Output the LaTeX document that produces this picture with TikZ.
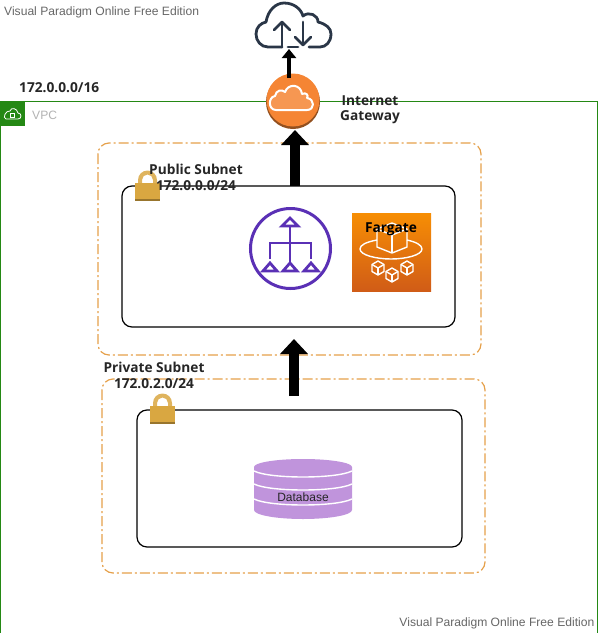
\documentclass[tikz,border=0pt]{standalone}
\usepackage{fontspec}
\setmainfont{Open Sans}
\newfontfamily\wmfont{Liberation Sans}
\usetikzlibrary{arrows.meta}
\definecolor{vpcgreen}{HTML}{248814}
\definecolor{subnetorange}{HTML}{E5A04A}
\definecolor{lockgold}{HTML}{D9A741}
\definecolor{lbpurple}{HTML}{5A30B5}
\definecolor{dbpurple}{HTML}{C094DC}
\definecolor{clouddark}{HTML}{2A3647}
\definecolor{gworange}{HTML}{F58534}
\definecolor{fgtop}{HTML}{F78E04}
\definecolor{fgbot}{HTML}{D05C17}
\tikzset{
  lbl/.style={font=\bfseries\fontsize{13.7}{15}\selectfont,text=black!85,inner sep=0pt},
  wmark/.style={font=\wmfont\fontsize{12.1}{14}\selectfont,text=black!60,inner sep=0pt},
  subnetbox/.style={draw=subnetorange,line width=1.2pt,rounded corners=11pt,dash pattern=on 10pt off 3pt on 2pt off 3pt},
  innerbox/.style={draw=black,line width=1.2pt,rounded corners=10pt},
  bigarrow/.style={-{Triangle[length=15pt,width=27pt]},line width=10.5pt,black},
  smallarrow/.style={-{Triangle[length=9pt,width=14pt]},line width=4.5pt,black},
  lockicon/.pic={
    \fill[lockgold!85!white,even odd rule] (-9.5,2) -- (-9.5,-3) arc[start angle=180,end angle=360,radius=9.5] -- (9.5,2) -- cycle
      (-5.5,2) -- (-5.5,-3) arc[start angle=180,end angle=360,radius=5.5] -- (5.5,2) -- cycle;
    \fill[lockgold] (-12.5,0) rectangle (12.5,16);
    \fill[lockgold!70!black] (-12.5,16) rectangle (12.5,18);
  }
}
\begin{document}
\begin{tikzpicture}[x=1pt,y=-1pt]
\useasboundingbox (0,0) rectangle (598,633);

% VPC
\draw[vpcgreen,line width=1pt] (0.5,101) rectangle (597.5,640);
\fill[vpcgreen] (0,101) rectangle (25,126);
\draw[white,line width=0.8pt] (6,119) -- (18,119) .. controls (22,119) and (22,113) .. (18,113)
  .. controls (17,108) and (11,107) .. (10,111) .. controls (6,110) and (2,118) .. (6,119);
\draw[white,line width=0.7pt] (10,113.5) rectangle (14,117);
\node[wmark,anchor=west,text=black!30] (vpclabel) at (32,115) {VPC};
\node[lbl,anchor=west] (vpccidr) at (19,88) {172.0.0.0/16};

% Subnets
\draw[subnetbox] (98,143) rectangle (481,355);
\draw[subnetbox] (102,379) rectangle (485,573);
\node[innerbox,minimum width=333pt,minimum height=141pt,inner sep=0pt] (pubbox) at (288.5,256.5) {};
\node[innerbox,minimum width=325pt,minimum height=137pt,inner sep=0pt] (privbox) at (299.5,478.5) {};
\pic at (147.5,183) {lockicon};
\pic at (162.5,406) {lockicon};
\node[lbl] (publabel) at (196,169) {Public Subnet};
\node[lbl] (pubcidr) at (196,186) {172.0.0.0/24};
\node[lbl] (privlabel) at (154,367) {Private Subnet};
\node[lbl] (privcidr) at (154,384) {172.0.2.0/24};

% Internet cloud
\node[minimum width=75pt,minimum height=45pt,inner sep=0pt] (inet) at (293.5,24.5) {};
\begin{scope}[clouddark,line width=2.8pt,line cap=round,line join=round]
  \draw (282,47) -- (268,47) .. controls (261,47) and (256,41) .. (256,34)
    .. controls (256,27) and (261,23) .. (266,22) .. controls (268,10) and (276,3) .. (284,3)
    .. controls (294,3) and (301,9) .. (303,16) .. controls (309,11) and (318,15) .. (318,22)
    .. controls (326,24) and (331,28) .. (331,34) .. controls (331,42) and (326,47) .. (320,47) -- (309,47);
  \draw (288,47) -- (298,47);
  \draw (282,47) -- (282,22);
  \draw (274,30) -- (282,22) -- (290,30);
  \draw (303,22) -- (303,45);
  \draw (295,37) -- (303,45) -- (311,37);
\end{scope}

% Internet gateway
\fill[gworange!60!black] (293,102) circle[radius=27];
\node[circle,fill=gworange,minimum size=53pt,inner sep=0pt] (igw) at (293,100) {};
\draw[white,line width=2pt,fill=gworange!85!white,line join=round]
  (276,110) .. controls (268,110) and (268,97) .. (275,96)
  .. controls (276,90) and (282,89) .. (285,92) .. controls (288,83) and (301,84) .. (302,94)
  .. controls (306,92) and (309,95) .. (307,98) .. controls (315,99) and (315,110) .. (307,110) -- cycle;
\node[lbl,align=center] (igwlabel) at (370,109.5) {Internet\\Gateway};

% Load balancer
\node[circle,draw=lbpurple,line width=3pt,minimum size=80pt,inner sep=0pt] (lb) at (290.5,248.5) {};
\begin{scope}[lbpurple,line width=2.8pt,line join=miter]
  \draw (290,226) -- (290,262);
  \draw (270,259) -- (270,243) -- (311,243) -- (311,259);
  \draw (290,218) -- (298,226) -- (282,226) -- cycle;
  \draw (270,263) -- (277,271) -- (263,271) -- cycle;
  \draw (290,263) -- (297,271) -- (283,271) -- cycle;
  \draw (311,263) -- (318,271) -- (304,271) -- cycle;
\end{scope}

% Fargate
\node[top color=fgtop,bottom color=fgbot,minimum width=79pt,minimum height=78pt,inner sep=0pt] (fargate) at (391.5,252) {};
\begin{scope}[white,line width=1.4pt,line join=round]
  \draw (377,240) .. controls (366,242) and (360,245) .. (360,249) .. controls (360,255) and (376,259) .. (391,259)
    .. controls (406,259) and (422,255) .. (422,249) .. controls (422,245) and (416,242) .. (407,240);
  \draw (377,229) -- (392,223) -- (407,229) -- (407,247) -- (392,253) -- (377,247) -- cycle;
  \draw (377,229) -- (392,235) -- (407,229);
  \draw (392,235) -- (392,253);
  \foreach \cx/\cy in {378/268,392/275,407/268}{
    \draw (\cx-6,\cy-3.5) -- (\cx,\cy-7) -- (\cx+6,\cy-3.5) -- (\cx+6,\cy+3.5) -- (\cx,\cy+7) -- (\cx-6,\cy+3.5) -- cycle;
    \draw (\cx-6,\cy-3.5) -- (\cx,\cy) -- (\cx+6,\cy-3.5);
    \draw (\cx,\cy) -- (\cx,\cy+7);
  }
\end{scope}
\node[lbl,text=black] (fargatelabel) at (391,229) {Fargate};

% Database
\fill[dbpurple] (254,467) arc[start angle=180,end angle=360,x radius=49,y radius=8]
  -- (352,510) arc[start angle=0,end angle=180,x radius=49,y radius=9] -- cycle;
\begin{scope}[white,line width=1.4pt]
  \draw (254,471) .. controls (270,479) and (336,479) .. (352,471);
  \draw (254,484) .. controls (270,492) and (336,492) .. (352,484);
  \draw (254,499) .. controls (270,507) and (336,507) .. (352,499);
\end{scope}
\node[font=\wmfont\fontsize{12}{14}\selectfont,text=black!85,inner sep=0pt] (dblabel) at (303,497) {Database};

% Arrows
\coordinate (igwtop) at (289,78);
\coordinate (inetbot) at (289,49);
\coordinate (pubtop) at (295,186);
\coordinate (igwbot) at (295,130);
\coordinate (privtop) at (294,396);
\coordinate (pubbot) at (294,339);
\draw[smallarrow] (igwtop) -- (inetbot);
\draw[bigarrow] (pubtop) -- (igwbot);
\draw[bigarrow] (privtop) -- (pubbot);

% Watermarks
\node[wmark,anchor=west] (wmtop) at (4,12) {Visual Paradigm Online Free Edition};
\node[wmark,anchor=east] (wmbot) at (594.5,623) {Visual Paradigm Online Free Edition};
\end{tikzpicture}
\end{document}
